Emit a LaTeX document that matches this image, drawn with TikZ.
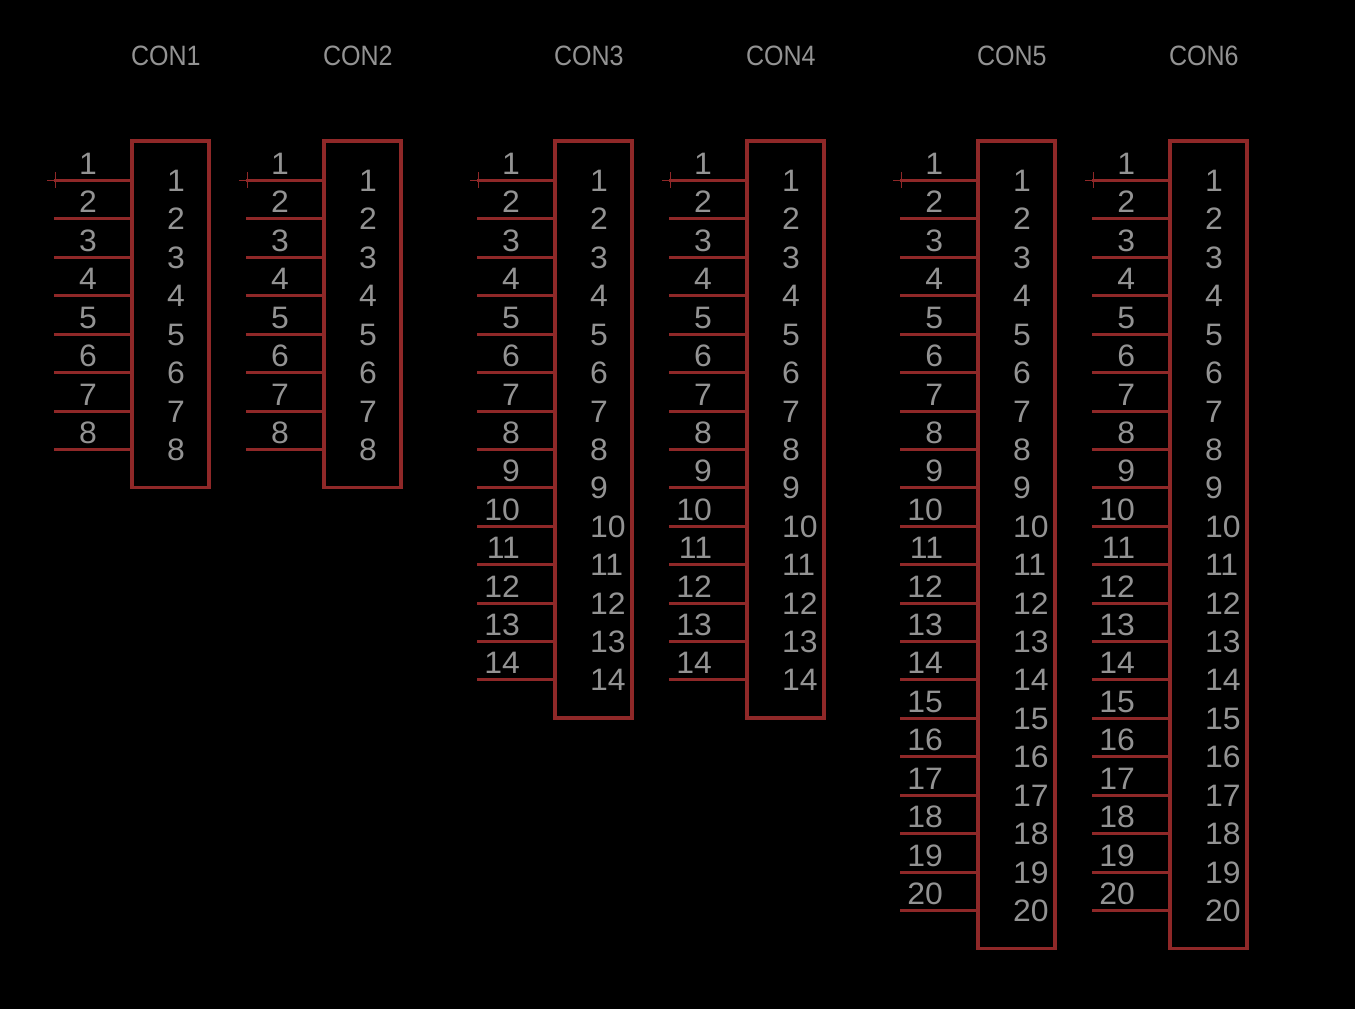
\documentclass[tikz,border=0pt]{standalone}
\usepackage{fontspec}
\setmainfont{Liberation Sans}
\definecolor{wirered}{HTML}{8F2828}
\definecolor{labelgrey}{HTML}{939393}
\tikzset{
  x=1pt,y=-1pt,
  body/.style={draw=wirered,line width=3.3pt,inner sep=0pt,outer sep=0pt,minimum width=77pt,anchor=north west},
  pinwire/.style={draw=wirered,line width=3pt},
  originmark/.style={draw=wirered,line width=0.9pt},
  pinlabel/.style={text=labelgrey,inner sep=0pt,outer sep=0pt,font=\fontsize{31}{31}\selectfont,xscale=1.03},
  title/.style={text=labelgrey,inner sep=0pt,outer sep=0pt,font=\fontsize{28}{28}\selectfont,xscale=0.895,anchor=base west},
}
\newcommand{\connector}[4]{%
  % #1 id, #2 left x, #3 pin count, #4 title
  \pgfmathsetmacro{\bodyh}{39+38.42*#3}
  \node[title] (title#1) at (#2-1,65) {#4};
  \node[body,minimum height=\bodyh pt] (box#1) at (#2,141) {};
  \foreach \i in {1,...,#3}{
    \pgfmathsetmacro{\py}{round(180+38.42*(\i-1))+0.5}
    \coordinate (a#1p\i) at (#2-78,\py);
    \coordinate (b#1p\i) at (#2,\py);
    \draw[pinwire] (a#1p\i) -- (b#1p\i);
    \node[pinlabel,anchor=base east] (out#1p\i) at (#2-35,\py-6.5) {\i};
    \node[pinlabel,anchor=base west] (in#1p\i) at (#2+35,\py+11) {\i};
  }
  \coordinate (ml#1) at (#2-85,180.5);
  \coordinate (mr#1) at (#2-77,180.5);
  \coordinate (mt#1) at (#2-77,172);
  \coordinate (mb#1) at (#2-77,188);
  \draw[originmark] (ml#1) -- (mr#1);
  \draw[originmark] (mt#1) -- (mb#1);
}
\begin{document}
\begin{tikzpicture}
\fill[black] (0,0) rectangle (1355,1009);
\useasboundingbox (0,0) rectangle (1355,1009);
\connector{A}{132}{8}{CON1}
\connector{B}{324}{8}{CON2}
\connector{C}{555}{14}{CON3}
\connector{D}{747}{14}{CON4}
\connector{E}{978}{20}{CON5}
\connector{F}{1170}{20}{CON6}
\end{tikzpicture}
\end{document}
